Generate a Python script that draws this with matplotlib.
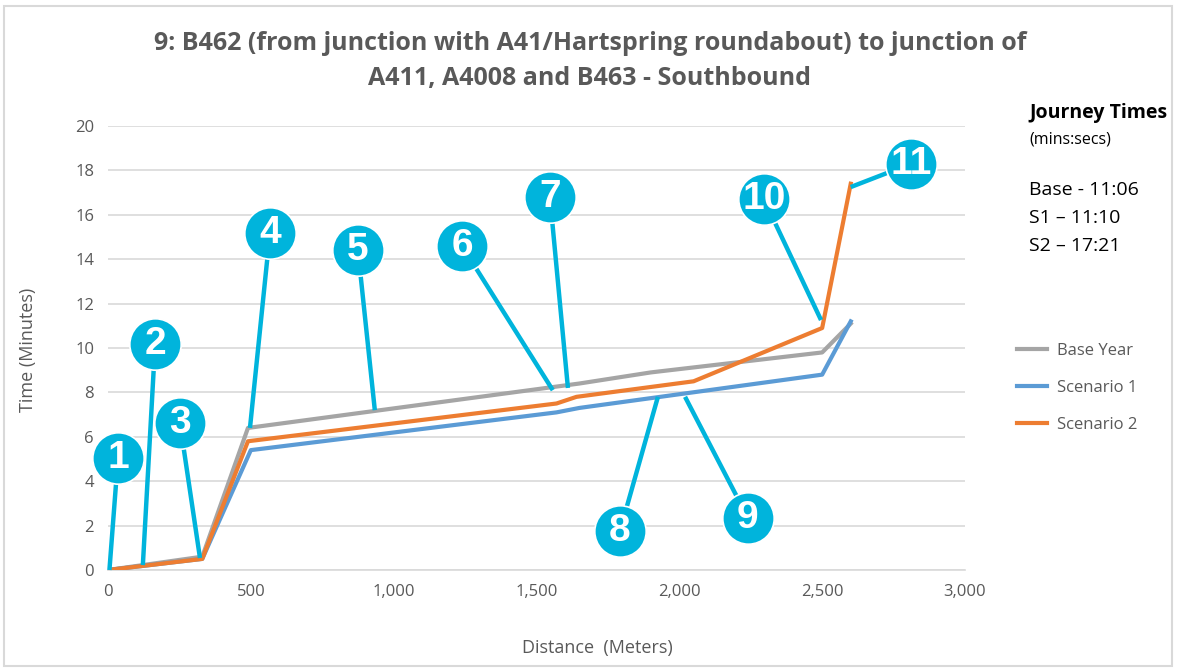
import matplotlib
matplotlib.use("Agg")
import matplotlib.pyplot as plt
from matplotlib.patches import Rectangle

plt.rcParams['font.family'] = ['Open Sans', 'DejaVu Sans']

# journey time profiles (distance in metres, time in minutes)
base_dist = [0, 330, 490, 1650, 1900, 2500, 2600]
base_time = [0, 0.6, 6.4, 8.4, 8.9, 9.8, 11.1]
s1_dist = [0, 330, 500, 1570, 1650, 2500, 2600]
s1_time = [0, 0.5, 5.4, 7.1, 7.3, 8.8, 11.2]
s2_dist = [0, 330, 490, 1570, 1640, 2050, 2500, 2600]
s2_time = [0, 0.5, 5.8, 7.5, 7.8, 8.5, 10.9, 17.4]

series_names = ['Base Year', 'Scenario 1', 'Scenario 2']
series_colors = ['#A5A5A5', '#5B9BD5', '#ED7D31']

journey_lines = ['Base - 11:06', 'S1 \u2013 11:10', 'S2 \u2013 17:21']

# numbered callouts: label position and the point on the route it refers to
callout_ids = ['1', '2', '3', '4', '5', '6', '7', '8', '9', '10', '11']
callout_pos = [(35, 5.05), (165, 10.2), (252, 6.6), (567, 15.2), (875, 14.4),
               (1239, 14.6), (1547, 16.8), (1792, 1.75), (2240, 2.35),
               (2296, 16.7), (2811, 18.3)]
callout_target = [(5, 0), (122, 0.22), (322, 0.54), (497, 6.4), (934, 7.2),
                  (1557, 8.1), (1610, 8.2), (1925, 7.8), (2020, 7.8),
                  (2496, 11.26), (2600, 17.25)]

fig = plt.figure(figsize=(11.8, 6.72), dpi=100)
ax = fig.add_axes([108 / 1180, 1 - 570 / 672, 857 / 1180, 444 / 672])

# outer chart border
fig.patches.append(Rectangle((4 / 1180, 6 / 672), 1168 / 1180, 660 / 672,
                             transform=fig.transFigure, fill=False,
                             edgecolor='#D9D9D9', linewidth=1.5))

ax.plot(base_dist, base_time, color=series_colors[0], lw=3, label=series_names[0], zorder=3)
ax.plot(s1_dist, s1_time, color=series_colors[1], lw=3, label=series_names[1], zorder=3)
ax.plot(s2_dist, s2_time, color=series_colors[2], lw=3, label=series_names[2], zorder=4)

cyan = '#00B4DC'
for cid, (cx, cy), (tx, ty) in zip(callout_ids, callout_pos, callout_target):
    ax.plot([cx, tx], [cy, ty], color=cyan, lw=3.2, solid_capstyle='butt', zorder=5, clip_on=False)
    ax.plot([cx], [cy], marker='o', markersize=37, color=cyan, markeredgecolor='white',
            markeredgewidth=1.2, zorder=6, clip_on=False)
    ax.text(cx, cy, cid, color='white', fontsize=28, fontweight='bold',
            family=['Liberation Sans', 'DejaVu Sans'],
            ha='center', va='center', zorder=7)

ax.set_xlim(0, 3000)
ax.set_ylim(0, 20)
ax.set_xticks(range(0, 3001, 500))
ax.set_xticklabels(['0', '500', '1,000', '1,500', '2,000', '2,500', '3,000'])
ax.set_yticks(range(0, 21, 2))
ax.grid(axis='y', color='#D9D9D9', lw=1.2)
ax.set_axisbelow(True)
for side in ['top', 'right', 'left']:
    ax.spines[side].set_visible(False)
ax.spines['bottom'].set_color('#D9D9D9')
ax.spines['bottom'].set_linewidth(1.2)
ax.tick_params(length=0, labelsize=12, colors='#595959', pad=10)

fig.text(28 / 1180, 1 - 350 / 672, 'Time (Minutes)', rotation=90, ha='center', va='center',
         fontsize=13, color='#595959')
fig.text(597 / 1180, 1 - 648 / 672, 'Distance  (Meters)', ha='center', va='center',
         fontsize=13, color='#595959')

fig.text(590 / 1180, 1 - 44 / 672, '9: B462 (from junction with A41/Hartspring roundabout) to junction of',
         ha='center', va='center', fontsize=18, fontweight='bold', color='#595959')
fig.text(590 / 1180, 1 - 79 / 672, 'A411, A4008 and B463 - Southbound',
         ha='center', va='center', fontsize=18, fontweight='bold', color='#595959')

fig.text(1029 / 1180, 1 - 113 / 672, 'Journey Times', ha='left', va='center',
         fontsize=14, fontweight='bold', color='black')
fig.text(1029 / 1180, 1 - 140 / 672, '(mins:secs)', ha='left', va='center',
         fontsize=11.5, color='black')
for i, line in enumerate(journey_lines):
    fig.text(1029 / 1180, 1 - (190 + 28 * i) / 672, line, ha='left', va='center',
             fontsize=14, color='black')

ax.legend(loc='upper left', bbox_to_anchor=(1002 / 1180, 1 - 328 / 672),
          bbox_transform=fig.transFigure, frameon=False, fontsize=12,
          labelcolor='#595959', handlelength=1.8, labelspacing=1.25, handletextpad=0.6)

fig.savefig('out.png', dpi=100)
